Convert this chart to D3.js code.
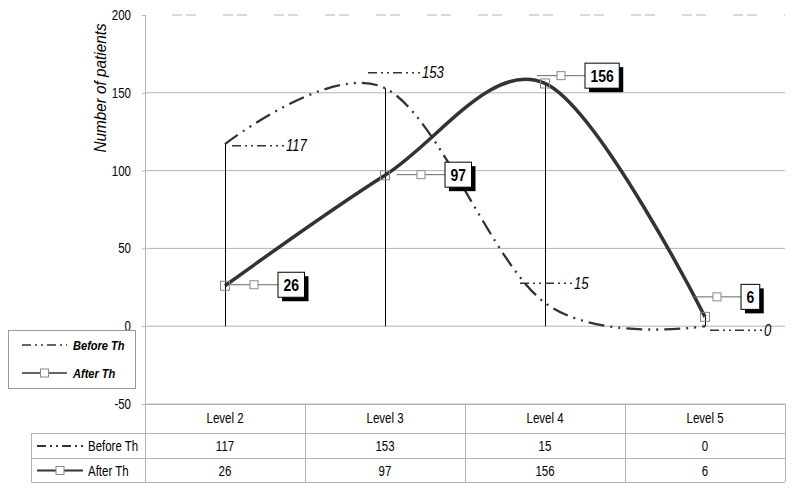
<!DOCTYPE html>
<html><head><meta charset="utf-8">
<script src="https://cdn.jsdelivr.net/npm/d3@7"></script>
<style>
body{margin:0;background:#fff;}
svg{display:block;}
text{font-family:"Liberation Sans",Arial,sans-serif;}
</style></head>
<body><svg id="c" width="800" height="493"></svg>
<script>
// ---- data ----
const categories = ["Level 2","Level 3","Level 4","Level 5"];
const beforeTh = [117,153,15,0];
const afterTh = [26,97,156,6];
const seriesNames = ["Before Th","After Th"];
const yTicks = [-50,0,50,100,150,200];
const yTitle = "Number of patients";

// ---- layout (label offsets relative to points) ----
const beforeLabelOff = [[7,1.5],[-17,-15.5],[-25,-19.5],[5,4]];
const afterLabelOff = [[5,-1],[12,-0.6],[-8,-7.8],[-12,-20]];

const SX = 0.82; // narrow-font emulation
const svg = d3.select("#c");
const L=145,R=785,T=15,B=404;
const x = d3.scaleBand().domain(categories).range([L,R]);
const cx = c => x(c)+x.bandwidth()/2;
const y = d3.scaleLinear().domain([-50,200]).range([B,T]);
const dark="#333", grid="#b4b4b4";
const dashCurve="16,6,2,6,2,6";
const dashKey="9,4,2,4,2,4";

function txt(parent,xx,yy,s,size,anchor,opts){
  const t=parent.append("text")
    .attr("transform",`translate(${xx},${yy}) scale(${SX},1)`)
    .attr("font-size",size).attr("dy","0.36em").attr("text-anchor",anchor||"start").text(s);
  if(opts&&opts.bold) t.attr("font-weight","bold");
  if(opts&&opts.italic) t.attr("font-style","italic");
  return t;
}

// gridlines
svg.append("g").selectAll("line").data(yTicks.filter(t=>t<200)).join("line")
  .attr("x1",L).attr("x2",R).attr("y1",d=>y(d)).attr("y2",d=>y(d))
  .attr("stroke",grid).attr("stroke-width",1);
svg.append("line").attr("x1",172).attr("x2",R).attr("y1",y(200)).attr("y2",y(200))
  .attr("stroke",grid).attr("stroke-width",1).attr("stroke-dasharray","10,4,10,27");

// axis
const ax = svg.append("g").attr("transform",`translate(${L},0)`)
  .call(d3.axisLeft(y).tickValues(yTicks).tickSize(3).tickFormat(""));
ax.select(".domain").remove();
ax.selectAll(".tick line").attr("stroke",grid);
yTicks.forEach(t=>txt(svg,131,y(t),String(t),14,"end"));
svg.append("line").attr("x1",L+0.5).attr("x2",L+0.5).attr("y1",T).attr("y2",482).attr("stroke",grid);

// y title
svg.append("text").attr("transform",`translate(106,88) rotate(-90) scale(0.9,1)`)
  .attr("text-anchor","middle").attr("font-size",17).attr("font-style","italic").text(yTitle);

// drop lines
svg.append("g").selectAll("line").data(categories).join("line")
  .attr("x1",d=>cx(d)+0.5).attr("x2",d=>cx(d)+0.5)
  .attr("y1",(d,i)=>y(Math.max(beforeTh[i],afterTh[i]))).attr("y2",y(0))
  .attr("stroke","#000").attr("stroke-width",1);

// lines
const line = d3.line().x(d=>cx(d.c)).y(d=>y(d.v)).curve(d3.curveCardinal.tension(0));
const bData = categories.map((c,i)=>({c,v:beforeTh[i]}));
const aData = categories.map((c,i)=>({c,v:afterTh[i]}));
svg.append("path").attr("d",line(bData)).attr("fill","none").attr("stroke",dark)
  .attr("stroke-width",2.3).attr("stroke-dasharray",dashCurve);
svg.append("path").attr("d",line(aData)).attr("fill","none").attr("stroke",dark)
  .attr("stroke-width",3.5);
svg.append("g").selectAll("rect").data(aData).join("rect")
  .attr("x",d=>cx(d.c)-4.5).attr("y",d=>y(d.v)-4.5).attr("width",9).attr("height",9)
  .attr("fill","none").attr("stroke","#888").attr("stroke-width",1);

// before labels
bData.forEach((d,i)=>{
  const px=cx(d.c)+beforeLabelOff[i][0], py=y(d.v)+beforeLabelOff[i][1];
  svg.append("line").attr("x1",px).attr("x2",px+52).attr("y1",py).attr("y2",py)
    .attr("stroke",dark).attr("stroke-width",1.5).attr("stroke-dasharray",dashKey);
  txt(svg,px+54,py,d.v,16,"start",{italic:true});
});
// after labels
aData.forEach((d,i)=>{
  const px=cx(d.c)+afterLabelOff[i][0], py=y(d.v)+afterLabelOff[i][1];
  svg.append("line").attr("x1",px).attr("x2",px+48).attr("y1",py).attr("y2",py)
    .attr("stroke","#666").attr("stroke-width",1);
  svg.append("rect").attr("x",px+20).attr("y",py-4).attr("width",8).attr("height",8)
    .attr("fill","#fff").attr("stroke","#888");
  const g = svg.append("g");
  const t = txt(g,px+48+5.5,py+0.5,d.v,17,"start",{bold:true});
  const w = t.node().getComputedTextLength()*SX+11;
  g.insert("rect","text").attr("x",px+48+4).attr("y",py-12.5+4).attr("width",w).attr("height",25).attr("fill","#000");
  g.insert("rect","text").attr("x",px+48).attr("y",py-12.5).attr("width",w).attr("height",25)
    .attr("fill","#fff").attr("stroke","#000").attr("stroke-width",1);
});

// legend
svg.append("rect").attr("x",8.5).attr("y",330.5).attr("width",127).attr("height",58)
  .attr("fill","#fff").attr("stroke","#999");
function key(g,xx,yy,i,len,w){
  if(i===0){
    g.append("line").attr("x1",xx).attr("x2",xx+len).attr("y1",yy).attr("y2",yy)
     .attr("stroke",dark).attr("stroke-width",w).attr("stroke-dasharray",dashKey);
  } else {
    g.append("line").attr("x1",xx).attr("x2",xx+len).attr("y1",yy).attr("y2",yy)
     .attr("stroke",dark).attr("stroke-width",w);
    g.append("rect").attr("x",xx+len/2-4).attr("y",yy-4).attr("width",8).attr("height",8)
     .attr("fill","#fff").attr("stroke","#888");
  }
}
seriesNames.forEach((n,i)=>{
  const yy=345+i*28;
  key(svg,22,yy,i,45,1.3);
  txt(svg,73,yy,n,13.5,"start",{bold:true,italic:true});
});

// data table
const tb = svg.append("g");
const rowsY=[404,433,458,482];
tb.append("line").attr("x1",L).attr("x2",R).attr("y1",rowsY[0]+0.5).attr("y2",rowsY[0]+0.5).attr("stroke",grid);
[1,2,3].forEach(k=>tb.append("line").attr("x1",31).attr("x2",R).attr("y1",rowsY[k]+0.5).attr("y2",rowsY[k]+0.5).attr("stroke",grid));
tb.append("line").attr("x1",31.5).attr("x2",31.5).attr("y1",rowsY[1]).attr("y2",rowsY[3]).attr("stroke",grid);
categories.forEach(c=>{
  tb.append("line").attr("x1",x(c)+x.bandwidth()+0.5).attr("x2",x(c)+x.bandwidth()+0.5)
    .attr("y1",rowsY[0]).attr("y2",rowsY[3]).attr("stroke",grid);
});
categories.forEach(c=>txt(tb,cx(c),418,c,14,"middle"));
[beforeTh,afterTh].forEach((arr,i)=>{
  const yy=(rowsY[i+1]+rowsY[i+2])/2+0.5;
  arr.forEach((v,j)=>txt(tb,cx(categories[j]),yy,v,14,"middle"));
  key(tb,37,yy,i,46,2);
  txt(tb,88,yy,seriesNames[i],14,"start");
});
</script></body></html>
